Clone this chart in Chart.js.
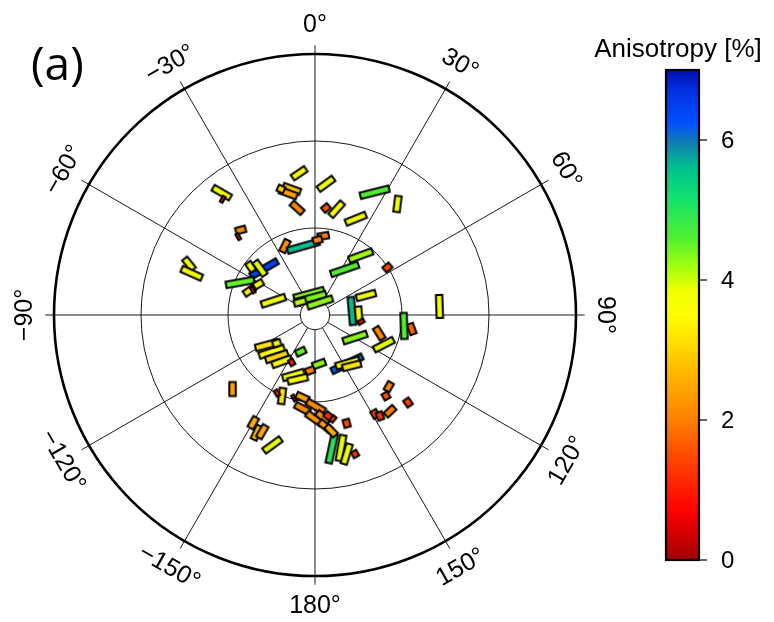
<!DOCTYPE html>
<html lang="en">
<head>
<meta charset="UTF-8">
<title>Anisotropy polar plot</title>
<script src="https://cdn.jsdelivr.net/npm/chart.js@4"></script>
<style>
  * { margin: 0; padding: 0; }
  body { background: #fff; }
  #wrap { width: 774px; height: 622px; }
</style>
</head>
<body>
<div id="wrap"><canvas id="chart" width="774" height="622"></canvas></div>
<script>
// stick centres (east / north, rings at 10, 20, 30), fast azimuth (deg from north),
// stick length (same units) and anisotropy (%)
const eastX = [
  -10.72, -10.61, -8.54, -8.82, -14.48, -14.17, -5.86, -7.39, -6.32, -8.62,
  -6.52, -7.55, -7.16, -4.79, -3.45, -1.34, 0.95, 0.29, -1.82, -2.68,
  -3.07, -3.91, -2.05, 1.26, 1.26, 2.49, 4.69, 6.86, 9.48, 5.26,
  3.41, 8.33, -0.69, -0.46, 0.57, -1.72, 5.86, 4.25, 5.02, 5.29,
  11.11, 10.23, 14.31, 4.60, 7.38, 7.91, 0.46, -0.57, 3.68, 3.74,
  4.22, 8.48, 8.16, 10.69, 8.62, 6.90, 7.47, 3.64, 4.60, 1.92,
  2.99, 3.64, -5.55, -4.98, -4.40, -3.83, -4.40, -1.64, -2.68, -2.49,
  -1.99, -9.48, -3.79, -4.37, -2.41, -1.44, -1.44, 0.09, -0.09, 0.92,
  1.53, 1.17, 1.84, 2.07, -7.09, -6.70, -6.06, -4.89
];
const northY = [
  14.06, 13.30, 9.77, 9.00, 5.86, 4.79, 5.32, 5.55, 5.37, 3.74,
  3.53, 2.79, 2.87, 1.63, 7.93, 7.90, 9.08, 8.62, 16.29, 14.48,
  13.99, 14.48, 12.32, 15.08, 12.30, 12.16, 11.06, 14.11, 12.76, 6.84,
  5.25, 5.46, 2.41, 1.95, 1.44, 1.49, 2.24, 0.46, 0.11, -0.77,
  -1.61, -1.26, 0.98, -2.59, -2.10, -3.41, -5.63, -6.40, -5.61, -5.52,
  -5.84, -8.24, -9.31, -10.06, -11.07, -11.38, -11.61, -12.45, -15.98, -15.37,
  -15.29, -15.98, -3.45, -4.22, -4.79, -5.37, -3.25, -4.22, -5.44, -6.90,
  -7.39, -8.51, -9.31, -8.97, -9.54, -9.48, -10.75, -10.51, -11.90, -11.74,
  -11.61, -12.78, -13.30, -11.95, -12.38, -13.53, -13.41, -14.94
];
const fastAz = [
  120, 120, 75, 60, 141, 114, 60, 145, 144, 80,
  60, 55, 60, 72, 26, 74, 80, 75, 56, 110,
  110, 115, 132, 54, 50, 42, 68, 76, 7, 70,
  71, 50, 75, 75, 72, 75, 75, 175, 175, 150,
  160, 178, 178, 72, 148, 63, 70, 70, 64, 74,
  76, 30, 150, 145, 47, 150, 160, 165, 60, 12,
  10, 17, 75, 72, 72, 70, 72, 65, 60, 74,
  77, 0, 7, 60, 60, 115, 118, 120, 125, 128,
  130, 130, 135, 130, 30, 25, 30, 54
];
const stickLen = [
  2.53, 0.57, 1.38, 0.57, 1.84, 2.76, 3.74, 1.38, 2.18, 3.49,
  1.38, 1.61, 0.57, 3.07, 1.72, 3.98, 1.49, 1.26, 2.07, 2.30,
  2.30, 1.03, 1.90, 2.38, 1.10, 2.30, 2.70, 3.63, 2.07, 3.06,
  3.56, 1.15, 3.77, 3.79, 3.22, 1.61, 2.49, 3.45, 1.95, 0.69,
  1.49, 3.22, 2.87, 3.07, 1.80, 2.71, 1.72, 1.26, 4.14, 2.99,
  2.37, 1.32, 1.03, 1.15, 1.57, 1.15, 1.15, 1.15, 0.92, 3.61,
  3.22, 2.61, 2.87, 3.22, 2.87, 2.53, 1.15, 1.38, 0.80, 2.76,
  2.53, 1.84, 2.07, 0.69, 0.57, 1.72, 2.07, 2.53, 2.30, 1.95,
  1.15, 1.84, 1.72, 0.69, 1.61, 1.95, 1.84, 2.61
];
const aniso = [
  3.7, 0.9, 2.1, 0.9, 3.7, 3.8, 6.4, 3.7, 3.9, 4.5,
  3.8, 3.3, 0.8, 3.8, 2.2, 5.6, 2.0, 2.1, 3.5, 2.8,
  2.4, 3.0, 2.1, 3.7, 1.6, 3.6, 3.8, 4.6, 3.7, 4.2,
  4.6, 1.5, 4.3, 4.4, 4.3, 4.1, 3.8, 5.6, 3.7, 0.8,
  1.7, 4.6, 3.8, 4.3, 2.1, 3.9, 4.3, 2.0, 6.1, 3.6,
  3.2, 2.1, 1.5, 1.4, 2.0, 1.5, 1.3, 1.5, 1.3, 5.0,
  3.9, 3.7, 3.2, 3.6, 3.0, 3.6, 3.7, 4.5, 1.0, 3.8,
  3.6, 2.4, 3.2, 1.0, 0.3, 2.4, 2.2, 2.1, 2.3, 2.2,
  1.2, 2.3, 2.5, 1.5, 2.6, 2.8, 2.5, 3.9
];

const ringRadii = [10, 20, 30];
const innerRadius = 1.7;
const spokeEnd = 31;
const labelRadius = 33.4;
const spokeAngles = [0, 30, 60, 90, 120, 150, 180, 210, 240, 270, 300, 330];
const angleLabels = ['0°', '30°', '60°', '90°', '120°', '150°', '180°', '−150°', '−120°', '−90°', '−60°', '−30°'];

// colour scale
const colorMin = 0, colorMax = 7;
const colorTicks = [0, 2, 4, 6];
const colorStops = [
  [0.0, '#a00000'], [0.7, '#ff0000'], [1.5, '#ff4a00'], [2.0, '#ff8000'],
  [2.6, '#ffb000'], [3.0, '#ffd400'], [3.5, '#ffff00'], [3.85, '#f0ff00'],
  [4.2, '#a0ff10'], [4.6, '#50f030'], [5.2, '#10e070'], [5.6, '#00c090'],
  [5.95, '#1080b0'], [6.25, '#0050ff'], [6.7, '#0030e0'], [7.0, '#0010b0']
];

const STICK_W = 0.74;
const FONT = '"Liberation Sans", Arial, sans-serif';

function hexRgb(h) {
  return [parseInt(h.slice(1, 3), 16), parseInt(h.slice(3, 5), 16), parseInt(h.slice(5, 7), 16)];
}

function anisoColor(v) {
  v = Math.max(colorMin, Math.min(colorMax, v));
  for (let i = 1; i < colorStops.length; i++) {
    const [v1, c1] = colorStops[i];
    if (v <= v1) {
      const [v0, c0] = colorStops[i - 1];
      const t = (v - v0) / (v1 - v0);
      const a = hexRgb(c0), b = hexRgb(c1);
      return 'rgb(' + a.map((x, k) => Math.round(x + (b[k] - x) * t)).join(',') + ')';
    }
  }
  return colorStops[colorStops.length - 1][1];
}

// one canvas per stick, sized through the x scale
const stickCache = {};
function stickStyle(ctx) {
  const i = ctx.dataIndex;
  const xs = ctx.chart.scales.x;
  const ppu = xs.getPixelForValue(1) - xs.getPixelForValue(0);
  const key = i + ':' + ppu.toFixed(3);
  if (stickCache[key]) return stickCache[key];
  const lw = 2;
  const w = STICK_W * ppu;
  const h = Math.max(stickLen[i] * ppu - lw, 3);
  const c = document.createElement('canvas');
  c.width = Math.ceil(w + 4);
  c.height = Math.ceil(h + 4);
  const g = c.getContext('2d');
  const x0 = (c.width - w) / 2, y0 = (c.height - h) / 2;
  g.fillStyle = anisoColor(aniso[i]);
  g.fillRect(x0, y0, w, h);
  g.strokeStyle = '#000';
  g.lineWidth = lw;
  g.strokeRect(x0, y0, w, h);
  stickCache[key] = c;
  return c;
}

const polarFrame = {
  id: 'polarFrame',
  beforeDatasetsDraw(chart) {
    const { ctx, scales: { x, y } } = chart;
    const cx = x.getPixelForValue(0), cy = y.getPixelForValue(0);
    const ppu = x.getPixelForValue(1) - cx;
    ctx.save();
    ctx.strokeStyle = '#000';
    ctx.lineWidth = 0.9;
    spokeAngles.forEach(a => {
      const t = a * Math.PI / 180;
      ctx.beginPath();
      ctx.moveTo(cx + Math.sin(t) * innerRadius * ppu, cy - Math.cos(t) * innerRadius * ppu);
      ctx.lineTo(cx + Math.sin(t) * spokeEnd * ppu, cy - Math.cos(t) * spokeEnd * ppu);
      ctx.stroke();
    });
    ctx.beginPath();
    ctx.arc(cx, cy, innerRadius * ppu, 0, Math.PI * 2);
    ctx.stroke();
    ringRadii.forEach((r, k) => {
      ctx.lineWidth = k === ringRadii.length - 1 ? 2.6 : 0.9;
      ctx.beginPath();
      ctx.arc(cx, cy, r * ppu, 0, Math.PI * 2);
      ctx.stroke();
    });
    // azimuth labels
    ctx.fillStyle = '#000';
    ctx.font = '25px ' + FONT;
    ctx.textAlign = 'center';
    ctx.textBaseline = 'middle';
    spokeAngles.forEach((a, k) => {
      const t = a * Math.PI / 180;
      let rot = a > 180 ? a - 360 : a;
      if (rot > 90) rot -= 180;
      if (rot < -90) rot += 180;
      ctx.save();
      ctx.translate(cx + Math.sin(t) * labelRadius * ppu, cy - Math.cos(t) * labelRadius * ppu);
      ctx.rotate(rot * Math.PI / 180);
      ctx.fillText(angleLabels[k], 0, 1);
      ctx.restore();
    });
    ctx.font = '46px "Open Sans", ' + FONT;
    ctx.textAlign = 'left';
    ctx.textBaseline = 'alphabetic';
    ctx.fillText('(a)', 31, 80);
    ctx.restore();
  }
};

const colorBar = {
  id: 'colorBar',
  afterDraw(chart) {
    const ctx = chart.ctx;
    const left = 666, right = 699, top = 70, bottom = 560;
    const vy = v => bottom - (v - colorMin) / (colorMax - colorMin) * (bottom - top);
    ctx.save();
    const grad = ctx.createLinearGradient(0, bottom, 0, top);
    colorStops.forEach(([v, c]) => grad.addColorStop((v - colorMin) / (colorMax - colorMin), c));
    ctx.fillStyle = grad;
    ctx.fillRect(left, top, right - left, bottom - top);
    ctx.strokeStyle = '#000';
    ctx.lineWidth = 2.2;
    ctx.strokeRect(left, top, right - left, bottom - top);
    ctx.lineWidth = 1.2;
    ctx.fillStyle = '#000';
    ctx.font = '24px ' + FONT;
    ctx.textAlign = 'left';
    ctx.textBaseline = 'middle';
    colorTicks.forEach(v => {
      const py = vy(v);
      ctx.beginPath();
      ctx.moveTo(right, py);
      ctx.lineTo(right + 8, py);
      ctx.stroke();
      ctx.fillText(String(v), 721, py + 1);
    });
    ctx.font = '26px ' + FONT;
    ctx.textAlign = 'center';
    ctx.textBaseline = 'alphabetic';
    ctx.fillText('Anisotropy [%]', 678, 57);
    ctx.restore();
  }
};

new Chart(document.getElementById('chart'), {
  type: 'scatter',
  data: {
    datasets: [{
      data: eastX.map((e, i) => ({ x: e, y: northY[i] })),
      pointStyle: stickStyle,
      pointRotation: ctx => fastAz[ctx.dataIndex],
      pointRadius: 3,
      pointHoverRadius: 3
    }]
  },
  options: {
    responsive: false,
    animation: false,
    events: [],
    layout: { padding: { left: 54, top: 54, right: 198, bottom: 46 } },
    plugins: { legend: { display: false }, tooltip: { enabled: false } },
    scales: {
      x: { type: 'linear', min: -30, max: 30, display: false },
      y: { type: 'linear', min: -30, max: 30, display: false }
    }
  },
  plugins: [polarFrame, colorBar]
});
</script>
</body>
</html>
